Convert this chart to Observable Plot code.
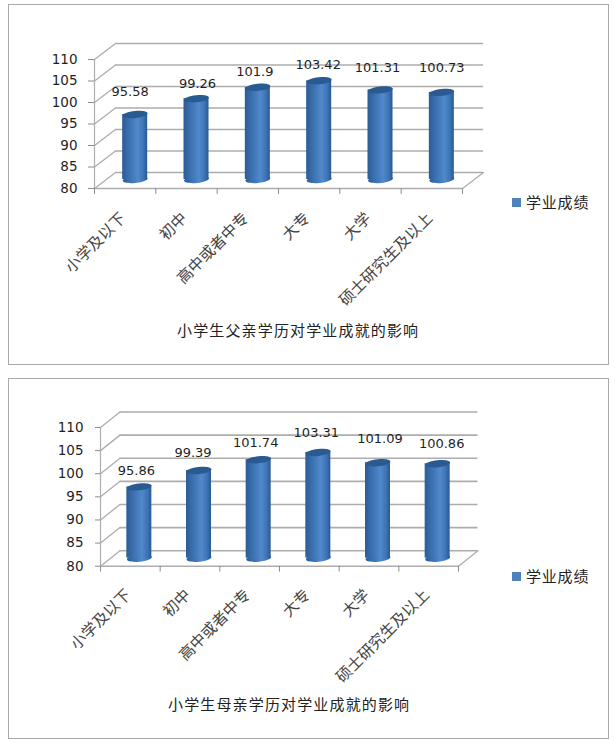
<!DOCTYPE html>
<html>
<head>
<meta charset="utf-8">
<script src="https://cdn.jsdelivr.net/npm/d3@7"></script>
<script src="https://cdn.jsdelivr.net/npm/@observablehq/plot@0.6"></script>
<style>
html,body{margin:0;padding:0;background:#fff;}
#page{position:relative;width:615px;height:743px;overflow:hidden;}
.box{position:absolute;box-sizing:border-box;border:1.5px solid #a9a9a9;background:#fff;}
.layer{position:absolute;left:0;}
.layer svg{display:block;overflow:visible;background:transparent;}
.title{position:absolute;font:15px "Noto Sans CJK SC",sans-serif;letter-spacing:1.15px;color:#222;white-space:nowrap;line-height:20px;}
.legend{position:absolute;font:15px "Noto Sans CJK SC",sans-serif;letter-spacing:.8px;color:#222;white-space:nowrap;line-height:20px;padding-left:14px;}
.legend i{position:absolute;left:0;top:6px;width:9px;height:9px;background:#4f81bd;}
</style>
</head>
<body>
<div id="page"></div>
<script>
const categories = ["小学及以下", "初中", "高中或者中专", "大专", "大学", "硕士研究生及以上"];
const fatherScores = [95.58, 99.26, 101.9, 103.42, 101.31, 100.73];
const motherScores = [95.86, 99.39, 101.74, 103.31, 101.09, 100.86];
const yTicks = [80, 85, 90, 95, 100, 105, 110];
const fatherTitle = "小学生父亲学历对学业成就的影响";
const motherTitle = "小学生母亲学历对学业成就的影响";
const seriesName = "学业成绩";

// layout only
const fatherLayout = {
  top: 0, height: 370, left: 94, right: 462, yTop: 59, yBottom: 188,
  wallDx: 21, wallDy: -16, colDx: 10, colDy: -7, tickSize: 6, tickPadding: 11,
  labelDx: [5, 11, 7, 9, 7, 10], labelDy: [-30, -22, -23, -23, -29, -32],
  axisDx: -2, axisDy: 27,
  box: [8, 4, 601, 361], titleAt: [177, 320], legendAt: [512, 192]
};
const motherLayout = {
  top: 370, height: 373, left: 100, right: 458, yTop: 57, yBottom: 195.7,
  wallDx: 19.5, wallDy: -15.5, colDx: 9, colDy: -6, tickSize: 5, tickPadding: 12,
  labelDx: [6, 3, 6, 7, 11, 13], labelDy: [-22, -24, -23, -26, -30, -26],
  axisDx: -2, axisDy: 26,
  box: [8, 378, 601, 361], titleAt: [168, 694], legendAt: [512, 566]
};

const gridColor = "#adadad";
const lineShape = {draw(c, l) { c.moveTo(0, 0); c.lineTo(0, -l); }};
const capShape = {draw(c, size) {
  const rx = Math.sqrt(size / Math.PI), ry = rx * 0.28, k = 0.5523;
  c.moveTo(-rx, 0);
  c.bezierCurveTo(-rx, -ry * k, -rx * k, -ry, 0, -ry);
  c.bezierCurveTo(rx * k, -ry, rx, -ry * k, rx, 0);
  c.bezierCurveTo(rx, ry * k, rx * k, ry, 0, ry);
  c.bezierCurveTo(-rx * k, ry, -rx, ry * k, -rx, 0);
  c.closePath();
}};

function gradientDefs(id) {
  const defs = d3.create("svg:defs");
  const g = defs.append("linearGradient").attr("id", id).attr("x1", 0).attr("x2", 1).attr("y1", 0).attr("y2", 0);
  [[0, "#2b5c95"], [0.3, "#3d72b2"], [0.62, "#5089cc"], [0.85, "#3d73b4"], [1, "#28588f"]]
    .forEach(([o, c]) => g.append("stop").attr("offset", o).attr("stop-color", c));
  return defs.node();
}

function drawChart(scores, L, id) {
  const rows = categories.map((c, i) => ({c, v: scores[i]}));
  const step = (L.right - L.left) / categories.length;
  const colW = 25;
  const inset = (step - colW) / 2;
  const gridLine = {stroke: gridColor, strokeWidth: 1.6};
  const diagLen = Math.hypot(L.wallDx, L.wallDy);
  const diagRot = Math.atan2(L.wallDx, -L.wallDy) * 180 / Math.PI;
  const first = categories[0], last = categories[categories.length - 1];
  const marks = [
    () => gradientDefs(id),
    Plot.ruleY(yTicks, {y: d => d, dx: L.wallDx, dy: L.wallDy, ...gridLine}),
    Plot.vector(yTicks, {x: () => first, y: d => d, dx: -step / 2, length: diagLen, rotate: diagRot, anchor: "start", shape: lineShape, ...gridLine, strokeWidth: 1.3}),
    Plot.vector([80], {x: () => last, y: d => d, dx: step / 2, length: diagLen, rotate: diagRot, anchor: "start", shape: lineShape, ...gridLine, strokeWidth: 1.3}),
    Plot.ruleX([first], {x: d => d, dx: -step / 2, y1: 80, y2: 110, stroke: gridColor, strokeWidth: 1.2}),
    Plot.ruleY([80], {y: d => d, ...gridLine}),
    Plot.vector(categories, {x: d => d, y: () => 80, dx: -step / 2, length: 5, rotate: 180, anchor: "start", shape: lineShape, stroke: "#8c8c8c", strokeWidth: 1}),
    Plot.vector([last], {x: d => d, y: () => 80, dx: step / 2, length: 5, rotate: 180, anchor: "start", shape: lineShape, stroke: "#8c8c8c", strokeWidth: 1}),
    Plot.axisY({ticks: yTicks, tickSize: L.tickSize, tickPadding: L.tickPadding, stroke: "#8c8c8c", fill: "#1f1f1f", fontSize: 13.5, fontFamily: "DejaVu Sans", label: null}),
    Plot.axisX({tickRotate: -45, tickSize: 0, tickPadding: 0, dx: L.axisDx, dy: L.axisDy, fontSize: 15.5, fill: "#444", fontFamily: "Noto Sans CJK SC", label: null, lineWidth: Infinity}),
    Plot.dot(rows, {x: "c", y: () => 80, dx: L.colDx, dy: L.colDy - 2, r: colW / 2, symbol: capShape, rotate: -6, fill: `url(#${id})`, stroke: "none"}),
    Plot.barY(rows, {x: "c", y1: () => 80, y2: "v", dx: L.colDx, dy: L.colDy, insetLeft: inset, insetRight: inset, insetBottom: 2, fill: `url(#${id})`}),
    Plot.dot(rows, {x: "c", y: "v", dx: L.colDx, dy: L.colDy, r: colW / 2, symbol: capShape, rotate: -6, fill: "#2a5a92", stroke: "none"}),
    ...rows.map((r, i) => Plot.text([r], {x: "c", y: "v", text: d => String(d.v), dx: L.labelDx[i], dy: L.labelDy[i], fontSize: 13, fontFamily: "DejaVu Sans", fill: "#1f1f1f"}))
  ];
  return Plot.plot({
    width: 615,
    height: L.height,
    marginLeft: L.left,
    marginRight: 615 - L.right,
    marginTop: L.yTop,
    marginBottom: L.height - L.yBottom,
    style: {background: "transparent", fontFamily: "DejaVu Sans"},
    x: {type: "band", domain: categories, padding: 0, round: false, label: null},
    y: {type: "linear", domain: [80, 110], label: null},
    marks
  });
}

const page = document.getElementById("page");
function addPanel(scores, L, id, title) {
  const box = document.createElement("div");
  box.className = "box";
  box.style.cssText = `left:${L.box[0]}px;top:${L.box[1]}px;width:${L.box[2]}px;height:${L.box[3]}px`;
  page.appendChild(box);
  const layer = document.createElement("div");
  layer.className = "layer";
  layer.style.top = L.top + "px";
  layer.appendChild(drawChart(scores, L, id));
  page.appendChild(layer);
  const t = document.createElement("div");
  t.className = "title";
  t.textContent = title;
  t.style.left = L.titleAt[0] + "px";
  t.style.top = L.titleAt[1] + "px";
  page.appendChild(t);
  const lg = document.createElement("div");
  lg.className = "legend";
  lg.innerHTML = "<i></i>";
  lg.appendChild(document.createTextNode(seriesName));
  lg.style.left = L.legendAt[0] + "px";
  lg.style.top = L.legendAt[1] + "px";
  page.appendChild(lg);
}
addPanel(fatherScores, fatherLayout, "cyl1", fatherTitle);
addPanel(motherScores, motherLayout, "cyl2", motherTitle);
</script>
</body>
</html>
